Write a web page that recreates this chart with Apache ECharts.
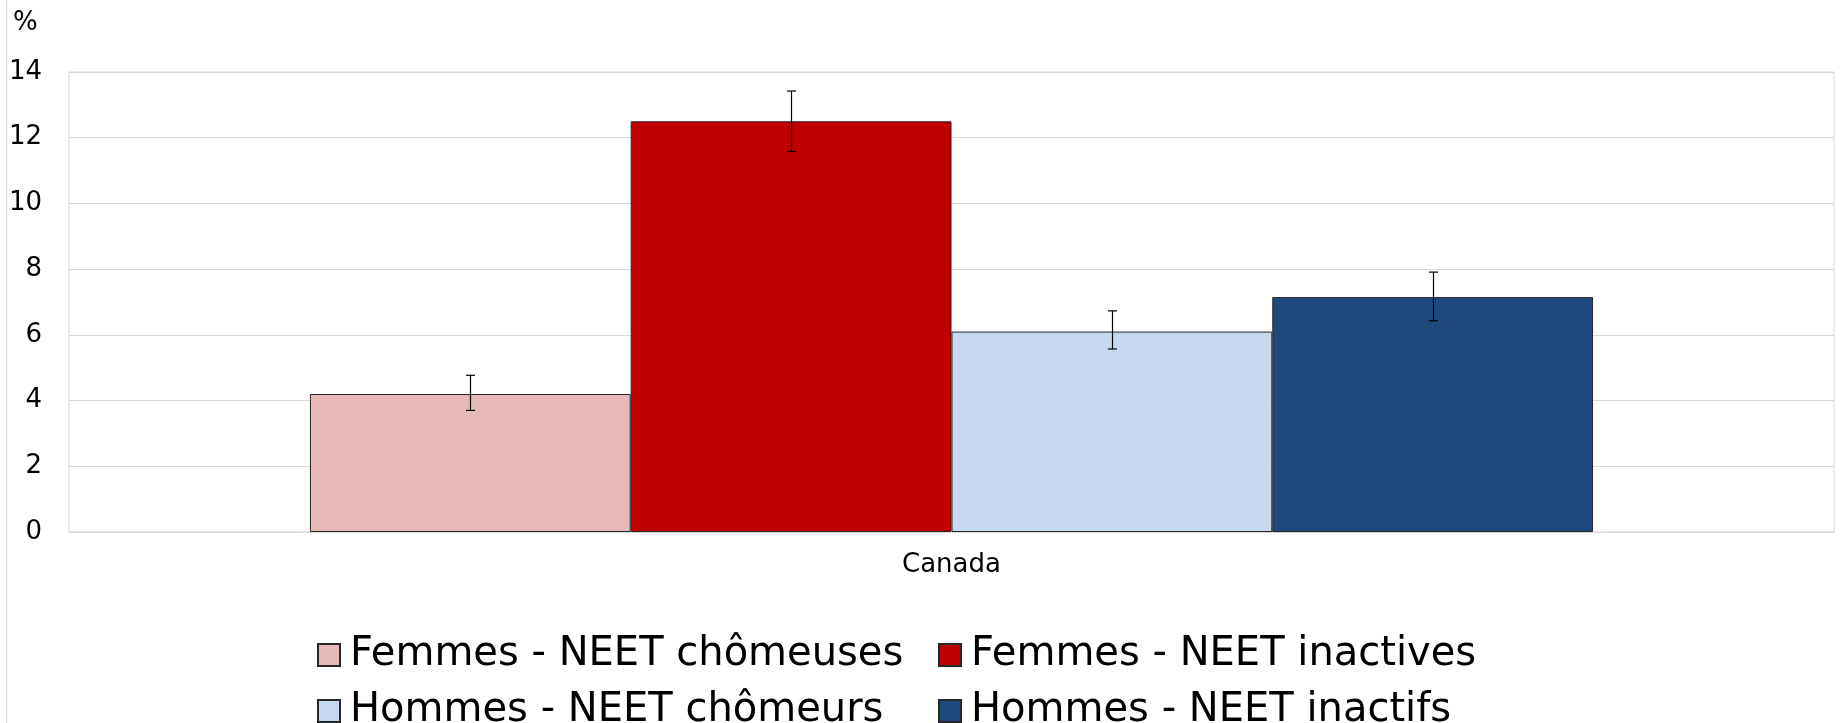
<!DOCTYPE html>
<html>
<head>
<meta charset="utf-8">
<script src="https://cdn.jsdelivr.net/npm/echarts@6/dist/echarts.min.js"></script>
<style>
html,body{margin:0;padding:0;background:#fff;}
#chart{width:1841px;height:723px;}
</style>
</head>
<body>
<div id="chart"></div>
<script>
const categories = ['Canada'];
const seriesNames = ['Femmes - NEET chômeuses', 'Femmes - NEET inactives', 'Hommes - NEET chômeurs', 'Hommes - NEET inactifs'];
const femmesChomeuses = [4.2];
const femmesInactives = [12.5];
const hommesChomeurs = [6.1];
const hommesInactifs = [7.15];
const errLowFemmesChomeuses = [3.7];
const errHighFemmesChomeuses = [4.77];
const errLowFemmesInactives = [11.58];
const errHighFemmesInactives = [13.42];
const errLowHommesChomeurs = [5.57];
const errHighHommesChomeurs = [6.73];
const errLowHommesInactifs = [6.43];
const errHighHommesInactifs = [7.91];
const yTicks = [0, 2, 4, 6, 8, 10, 12, 14];

const colors = ['#E6B8B7', '#C00000', '#C6D9F1', '#1F497D'];
const values = [femmesChomeuses, femmesInactives, hommesChomeurs, hommesInactifs];
const lows = [errLowFemmesChomeuses, errLowFemmesInactives, errLowHommesChomeurs, errLowHommesInactifs];
const highs = [errHighFemmesChomeuses, errHighFemmesInactives, errHighHommesChomeurs, errHighHommesInactifs];
const GAP = 0.273;
const FONT = '"DejaVu Sans", Verdana, sans-serif';

const chart = echarts.init(document.getElementById('chart'), null, {renderer: 'canvas'});

function makeErr(k) {
  return function (params, api) {
    const cat = api.value(0);
    const lo = api.value(1), hi = api.value(2);
    const band = api.size([1, 0])[0];
    const total = band * (1 - GAP);
    const bw = total / 4;
    const center = api.coord([cat, 0])[0];
    const x = Math.round(center - total / 2 + bw * (k + 0.5)) + 0.5;
    const yLo = api.coord([cat, lo])[1];
    const yHi = api.coord([cat, hi])[1];
    const cap = 4.5;
    const st = {stroke: '#000', lineWidth: 1.2};
    return {
      type: 'group',
      children: [
        {type: 'line', shape: {x1: x, y1: yLo, x2: x, y2: yHi}, style: st},
        {type: 'line', shape: {x1: x - cap, y1: yLo, x2: x + cap, y2: yLo}, style: st},
        {type: 'line', shape: {x1: x - cap, y1: yHi, x2: x + cap, y2: yHi}, style: st}
      ]
    };
  };
}

const barSeries = seriesNames.map((n, k) => ({
  name: n,
  type: 'bar',
  data: values[k],
  barGap: '0%',
  barCategoryGap: (GAP * 100) + '%',
  itemStyle: {color: colors[k], borderColor: '#262626', borderWidth: 1},
  emphasis: {disabled: true},
  z: 2
}));

const errSeries = seriesNames.map((n, k) => ({
  name: 'err' + k,
  type: 'custom',
  data: categories.map((c, i) => [i, lows[k][i], highs[k][i]]),
  encode: {x: 0, y: [1, 2]},
  renderItem: makeErr(k),
  z: 5,
  silent: true
}));

const legendCommon = {
  left: 312,
  orient: 'horizontal',
  itemWidth: 22,
  itemHeight: 22,
  itemGap: 28,
  icon: 'rect',
  selectedMode: false,
  textStyle: {fontFamily: FONT, fontSize: 40, color: '#000', width: 560, lineHeight: 46, padding: [0, 0, 0, 5]}
};

chart.setOption({
  animation: false,
  backgroundColor: '#fff',
  textStyle: {fontFamily: FONT},
  grid: {left: 69, right: 7, top: 72, bottom: 191, show: true, borderColor: '#d9d9d9', borderWidth: 1, containLabel: false},
  legend: [
    Object.assign({}, legendCommon, {top: 627, data: seriesNames.slice(0, 2)}),
    Object.assign({}, legendCommon, {top: 683, data: seriesNames.slice(2, 4)})
  ],
  xAxis: {
    type: 'category',
    data: categories,
    axisLine: {show: true, lineStyle: {color: '#d9d9d9'}},
    axisTick: {show: false},
    axisLabel: {fontFamily: FONT, fontSize: 26, color: '#000', margin: 20}
  },
  yAxis: {
    type: 'value',
    min: yTicks[0],
    max: yTicks[yTicks.length - 1],
    interval: 2,
    axisLine: {show: false},
    axisTick: {show: false},
    splitLine: {show: true, lineStyle: {color: '#d9d9d9', width: 1}},
    axisLabel: {fontFamily: FONT, fontSize: 26, color: '#000', margin: 27}
  },
  graphic: [
    {type: 'text', left: 13, top: 10, style: {text: '%', font: '26px ' + FONT, fill: '#000'}},
    {type: 'line', shape: {x1: 6.5, y1: 0, x2: 6.5, y2: 723}, style: {stroke: '#d9d9d9', lineWidth: 1.5}}
  ],
  series: barSeries.concat(errSeries)
});
</script>
</body>
</html>
